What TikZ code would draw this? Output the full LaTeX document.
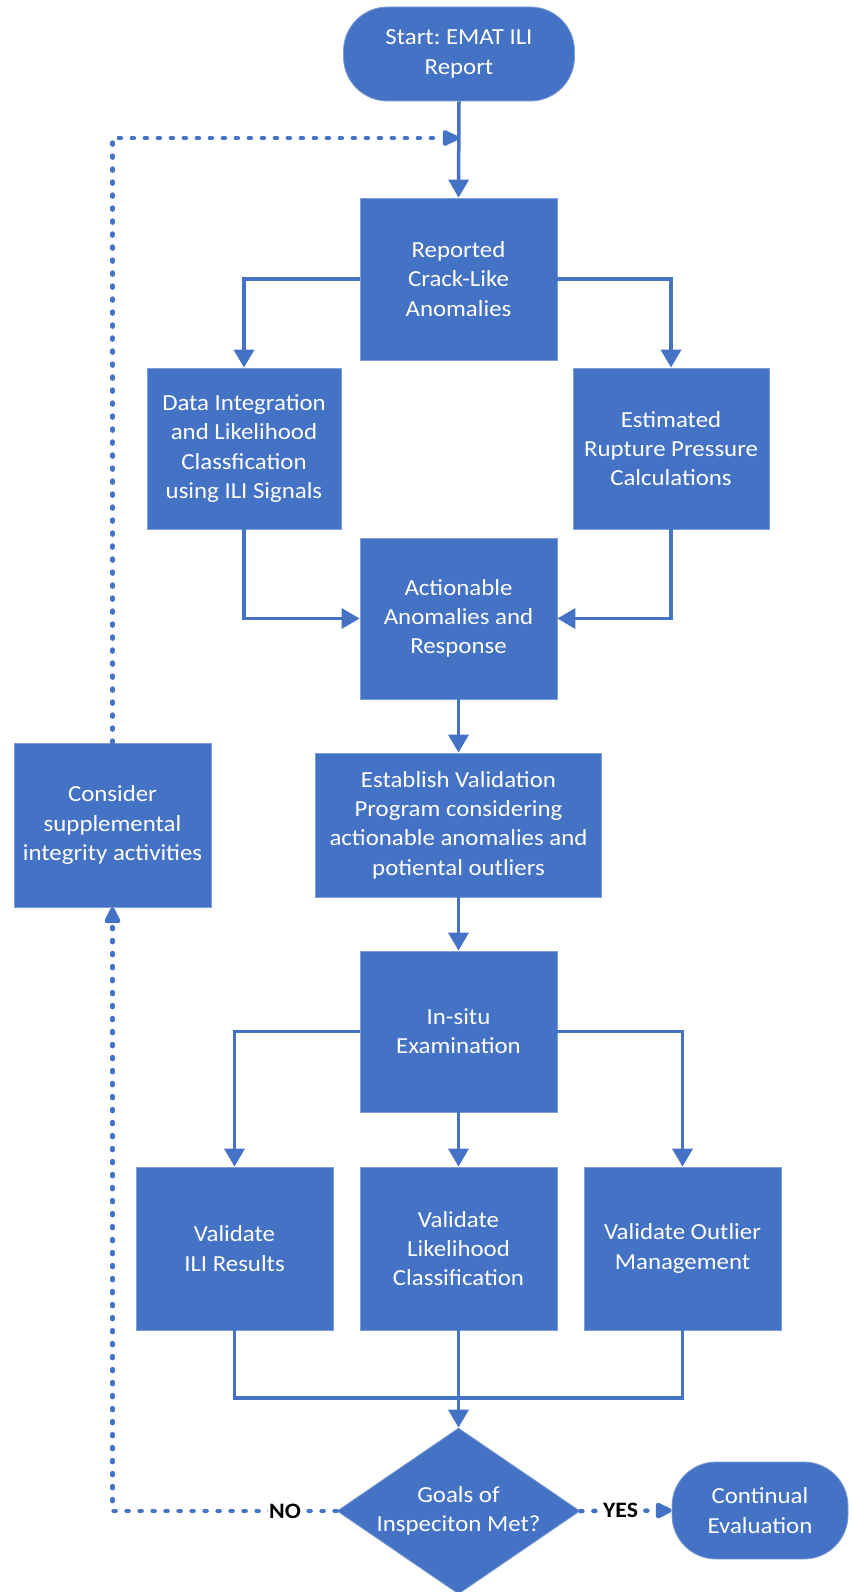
\documentclass[tikz,border=0pt]{standalone}
\usepackage{fontspec}
\setmainfont[FakeStretch=1.08]{Carlito}
\usetikzlibrary{arrows.meta,shapes.geometric}
\definecolor{flowblue}{HTML}{4472C4}
\definecolor{edgeblue}{HTML}{7E9ED8}
\frenchspacing

\begin{document}
\begin{tikzpicture}[x=1pt,y=-1pt,
  boxtext/.style={text=white, align=center, font=\fontsize{23}{29.3}\selectfont, inner sep=0pt},
  stepbox/.style={boxtext, rectangle, fill=flowblue, draw=edgeblue, line width=0.8pt},
  termbox/.style={boxtext, rectangle, rounded corners=44pt, fill=flowblue, draw=edgeblue, line width=0.8pt},
  decbox/.style={boxtext, diamond, aspect=1.46, fill=flowblue, draw=edgeblue, line width=0.8pt},
  link/.style={draw=flowblue, line width=3.5pt},
  flow/.style={link, -{Triangle[length=18pt,width=20pt]}},
  loopline/.style={draw=flowblue, line width=4.5pt, line cap=round, dash pattern=on 2pt off 11pt},
  loopflow/.style={loopline, -{Triangle[length=19pt,width=17pt,round=false]}},
  answer/.style={fill=white, text=black, font=\bfseries\fontsize{22}{27}\selectfont, inner sep=1.5pt}
]
\useasboundingbox (0,0) rectangle (852,1592);

% process nodes
\node[termbox, minimum width=231pt, minimum height=94pt] (start) at (459,54) {Start: EMAT ILI\\Report};
\node[stepbox, minimum width=197pt, minimum height=162pt] (reported) at (458.5,279) {Reported\\Crack-Like\\Anomalies};
\node[stepbox, minimum width=194pt, minimum height=161pt] (data) at (244,448.5) {Data Integration\\and Likelihood\\Classfication\\using ILI Signals};
\node[stepbox, minimum width=196pt, minimum height=161pt] (rupture) at (671,448.5) {Estimated\\Rupture Pressure\\Calculations};
\node[stepbox, minimum width=197pt, minimum height=161pt] (action) at (458.5,618.5) {Actionable\\Anomalies and\\Response};
\node[stepbox, minimum width=286pt, minimum height=144pt] (establish) at (458.5,825) {Establish Validation\\Program considering\\actionable anomalies and\\potiental outliers};
\node[stepbox, minimum width=197pt, minimum height=161pt] (insitu) at (458.5,1031.5) {In-situ\\Examination};
\node[stepbox, minimum width=197pt, minimum height=163pt] (vili) at (234.5,1248.5) {Validate\\ILI Results};
\node[stepbox, minimum width=197pt, minimum height=163pt] (vlike) at (458.5,1248.5) {Validate\\Likelihood\\Classification};
\node[stepbox, minimum width=197pt, minimum height=163pt] (vout) at (682.5,1248.5) {Validate Outlier\\Management};
\node[stepbox, minimum width=197pt, minimum height=164pt] (consider) at (112.5,825) {Consider\\supplemental\\integrity activities};
\node[decbox, minimum width=243pt, minimum height=166pt] (goals) at (458.5,1511) {Goals of\\Inspeciton Met?};
\node[termbox, minimum width=176pt, minimum height=97pt] (cont) at (760,1510.5) {Continual\\Evaluation};

% helper points
\coordinate (join) at (458.5,138);
\coordinate (merge) at (458.5,1398);

% main flow
\draw[flow] (start.south) -- (reported.north);
\draw[flow] (reported.west) -| (data.north);
\draw[flow] (reported.east) -| (rupture.north);
\draw[flow] (data.south) |- (action.west);
\draw[flow] (rupture.south) |- (action.east);
\draw[flow] (action.south) -- (establish.north);
\draw[flow] (establish.south) -- (insitu.north);
\draw[flow] (insitu.west) -| (vili.north);
\draw[flow] (insitu.south) -- (vlike.north);
\draw[flow] (insitu.east) -| (vout.north);
\draw[link] (vili.south) |- (merge) -| (vout.south);
\draw[flow] (vlike.south) -- (goals.north);

% decision outcomes
\draw[loopflow] (goals.west) -- node[answer, pos=0.23] {NO} (goals.west -| consider.south) -- (consider.south);
\draw[loopflow] (consider.north) |- (join);
\draw[loopflow] (goals.east) -- node[answer, pos=0.44] {YES} (cont.west);
\end{tikzpicture}
\end{document}
